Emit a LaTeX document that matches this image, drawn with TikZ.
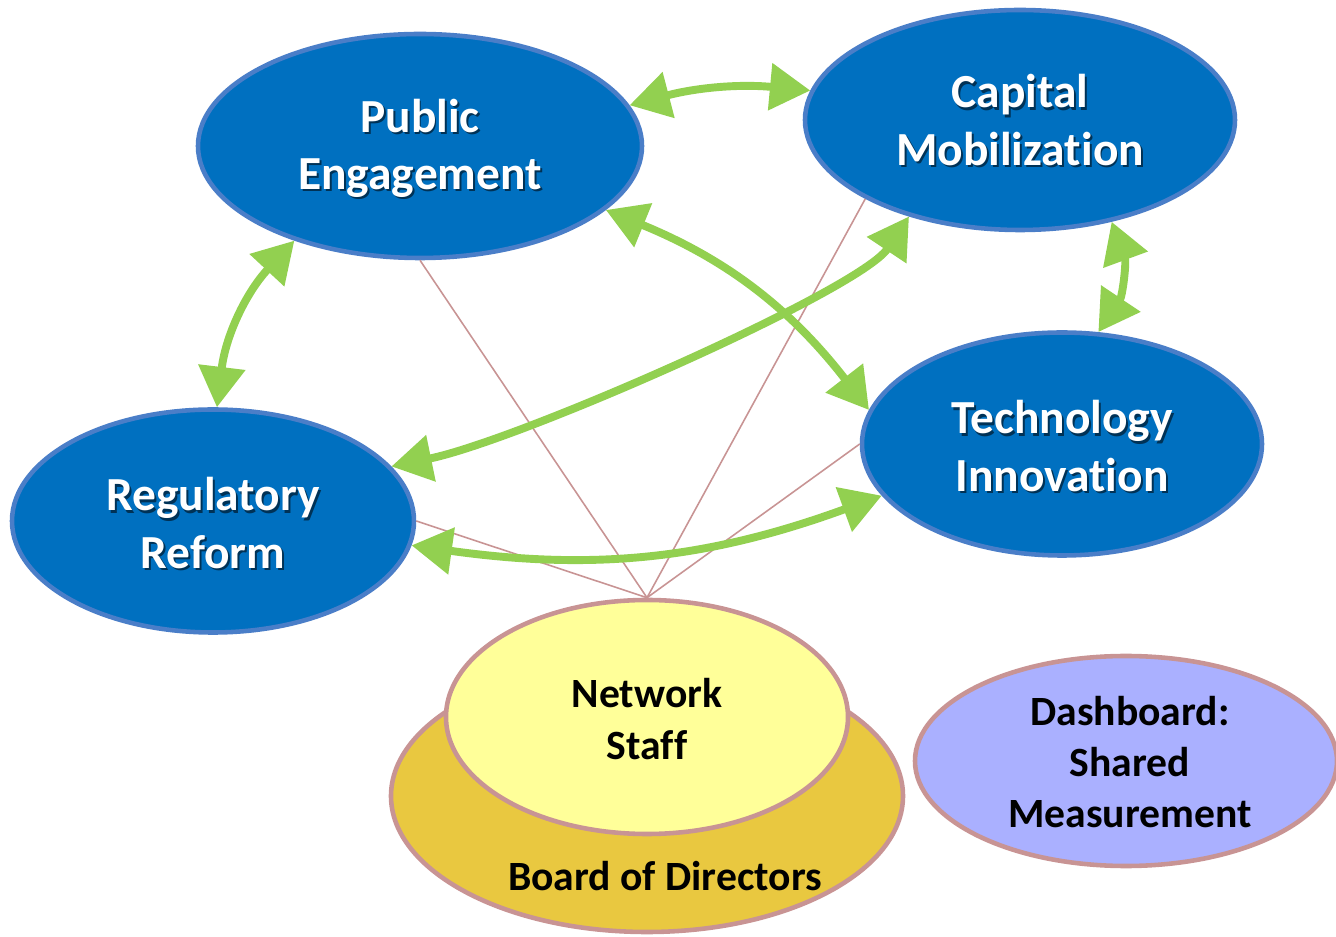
\documentclass[tikz,border=0pt]{standalone}
\usepackage{fontspec}
\setmainfont{Carlito}[Ligatures=NoCommon]
\usetikzlibrary{shapes,arrows.meta,positioning,calc}

\definecolor{hubblue}{RGB}{0,112,192}
\definecolor{hubedge}{RGB}{74,126,200}
\definecolor{linkgreen}{RGB}{146,208,80}
\definecolor{rosy}{RGB}{200,148,148}
\definecolor{staffyellow}{RGB}{255,255,153}
\definecolor{boardgold}{RGB}{233,200,64}
\definecolor{dashlilac}{RGB}{170,176,255}

\tikzset{
  hub/.style={ellipse, draw=hubedge, fill=hubblue, line width=2.6pt, inner sep=0pt},
  hubtext/.style={text=white, align=center, font=\fontsize{27}{32.5}\selectfont\bfseries},
  hubshade/.style={hubtext, text=black, opacity=0.55},
  pad/.style={ellipse, draw=rosy, line width=2.6pt, inner sep=0pt},
  padtext/.style={align=center, font=\fontsize{23.7}{29.2}\selectfont\bfseries},
  spoke/.style={draw=rosy, line width=0.9pt},
  link/.style={draw=linkgreen, line width=4.5pt,
    {Triangle[length=23pt,width=26pt]}-{Triangle[length=23pt,width=26pt]}},
}

\begin{document}
\begin{tikzpicture}[x=0.2mm, y=-0.2mm]
    \useasboundingbox (0,0) rectangle (1336,937);

    % Board and staff
    \node[pad, fill=boardgold, minimum width=102.4mm, minimum height=54.4mm] (board) at (647,796) {};
    \node[padtext] (board-text) at (665,876) {Board of Directors};
    \node[pad, fill=staffyellow, minimum width=80.4mm, minimum height=46.8mm] (ns) at (647,717) {};
    \node[padtext] (ns-text) at (647,719) {Network\\Staff};

    % Dashboard
    \node[pad, fill=dashlilac, minimum width=84.4mm, minimum height=42mm] (dash) at (1126,761) {};
    \node[padtext] (dash-text) at (1130,762) {Dashboard:\\Shared\\Measurement};

    % Working groups
    \node[hub, minimum width=88.8mm, minimum height=44.8mm] (pe) at (420,146) {};
    \node[hub, minimum width=86mm, minimum height=44mm] (cm) at (1020,120) {};
    \node[hub, minimum width=80mm, minimum height=44.6mm] (ti) at (1062,444) {};
    \node[hub, minimum width=80.4mm, minimum height=44.6mm] (rr) at (213,521) {};

    \node[hubshade] (pe-shade) at ([shift={(1.1pt,-1.4pt)}]420,148) {Public\\Engagement};
    \node[hubtext] (pe-text) at (420,148) {Public\\Engagement};
    \node[hubshade] (cm-shade) at ([shift={(1.1pt,-1.4pt)}]1020,120) {Capital\\Mobilization};
    \node[hubtext] (cm-text) at (1020,120) {Capital\\Mobilization};
    \node[hubshade] (ti-shade) at ([shift={(1.1pt,-1.4pt)}]1062,446) {Technology\\Innovation};
    \node[hubtext] (ti-text) at (1062,446) {Technology\\Innovation};
    \node[hubshade] (rr-shade) at ([shift={(1.1pt,-1.4pt)}]213,523) {Regulatory\\Reform};
    \node[hubtext] (rr-text) at (213,523) {Regulatory\\Reform};

    % Staff support lines
    \foreach \t in {pe.south, cm.207, ti.west, rr.east}
        \draw[spoke] (ns.north) -- (\t);

    % Links between groups
    \draw[link] (pe.11) to[bend left=10] (cm.172);
    \draw[link] (pe.217) to[bend right=18] (rr.88);
    \draw[link] (cm.312) to[bend left=27] (ti.72);
    \draw[link] (pe.341) to[bend left=15] (ti.170);
    \draw[link] (cm.221) .. controls (860,290) and (520,440) .. (rr.17);
    \draw[link] (rr.353) to[bend right=14] (ti.196);

\end{tikzpicture}
\end{document}
